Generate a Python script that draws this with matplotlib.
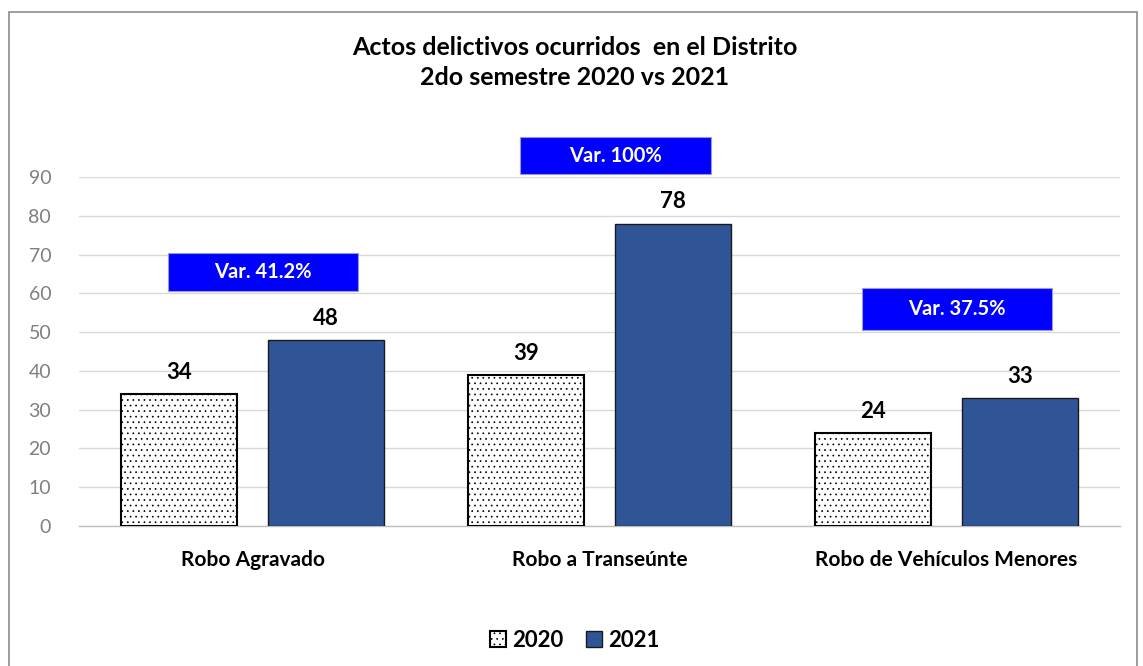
import matplotlib
matplotlib.use("Agg")
import matplotlib.pyplot as plt
from matplotlib.patches import Rectangle
import numpy as np

categories = ["Robo Agravado", "Robo a Transeúnte", "Robo de Vehículos Menores"]
values_2020 = [34, 39, 24]
values_2021 = [48, 78, 33]
variation_labels = ["Var. 41.2%", "Var. 100%", "Var. 37.5%"]
series_names = ["2020", "2021"]
yticks = [0, 10, 20, 30, 40, 50, 60, 70, 80, 90]

# positions of variation boxes (x offset from category, y bottom, y top) in data units
box_specs = [(0.03, 60.6, 70.4), (0.046, 90.8, 100.3), (0.03, 50.5, 61.4)]
box_width = 0.548

plt.rcParams['font.family'] = ['Lato', 'DejaVu Sans']
plt.rcParams['hatch.linewidth'] = 0.5
plt.rcParams['hatch.color'] = '#444444'

fig = plt.figure(figsize=(11.43, 6.66), dpi=100)
ax = fig.add_axes([0.0691, 0.2102, 0.9109, 0.524])

x = np.arange(len(categories))
bw = 0.334
off = 0.212

b1 = ax.bar(x - off, values_2020, bw, color="white", edgecolor="black",
            hatch="...", linewidth=1.5, label=series_names[0], zorder=3)
b2 = ax.bar(x + off, values_2021, bw, color="#2F5597", edgecolor="#1a1a1a",
            linewidth=1.0, label=series_names[1], zorder=3)

for bars, vals in ((b1, values_2020), (b2, values_2021)):
    for rect, v in zip(bars, vals):
        ax.annotate(str(v), (rect.get_x() + rect.get_width() / 2, v),
                    xytext=(0, 8), textcoords="offset points",
                    ha="center", va="bottom", fontsize=16, fontweight="bold",
                    color="black")

for i, (dx, y0, y1) in enumerate(box_specs):
    cx = x[i] + dx
    r = Rectangle((cx - box_width / 2, y0), box_width, y1 - y0,
                  facecolor="#0000FF", edgecolor="#9999cc", linewidth=0.8,
                  clip_on=False, zorder=4)
    ax.add_patch(r)
    ax.text(cx, (y0 + y1) / 2, variation_labels[i], ha="center", va="center",
            color="white", fontsize=14.5, fontweight="bold", zorder=5,
            clip_on=False)

ax.set_xlim(-0.5, 2.5)
ax.set_ylim(0, 90)
ax.set_yticks(yticks)
ax.set_yticklabels([str(t) for t in yticks], color="#7f7f7f", fontsize=14)
ax.set_xticks(x)
ax.set_xticklabels(categories, fontsize=15, fontweight="bold", color="black")
ax.tick_params(axis="both", length=0)
ax.tick_params(axis="y", pad=20)
ax.tick_params(axis="x", pad=17)
ax.yaxis.grid(True, color="#d9d9d9", linewidth=1.0, zorder=0)
ax.set_axisbelow(True)
for s in ["top", "right", "left"]:
    ax.spines[s].set_visible(False)
ax.spines["bottom"].set_color("#bfbfbf")
ax.spines["bottom"].set_linewidth(1.0)

fig.text(0.503, 0.929, "Actos delictivos ocurridos  en el Distrito", ha="center",
         va="center", fontsize=18, fontweight="bold")
fig.text(0.503, 0.884, "2do semestre 2020 vs 2021", ha="center",
         va="center", fontsize=18, fontweight="bold")

leg = fig.legend(handles=[b1, b2], labels=series_names, loc="center",
                 bbox_to_anchor=(0.503, 0.039), ncol=2, frameon=False,
                 fontsize=16, handlelength=0.7, handleheight=0.7,
                 handletextpad=0.3, columnspacing=1.0)
for t in leg.get_texts():
    t.set_fontweight("bold")

# outer chart border
fig.add_artist(Rectangle((8.5 / 1143, -0.01), (1137 - 8.5) / 1143, 1 - 11.5 / 666 + 0.01,
                         transform=fig.transFigure, fill=False,
                         edgecolor="#8c8c8c", linewidth=1.2))

fig.savefig("out.png", dpi=100, facecolor="white")
